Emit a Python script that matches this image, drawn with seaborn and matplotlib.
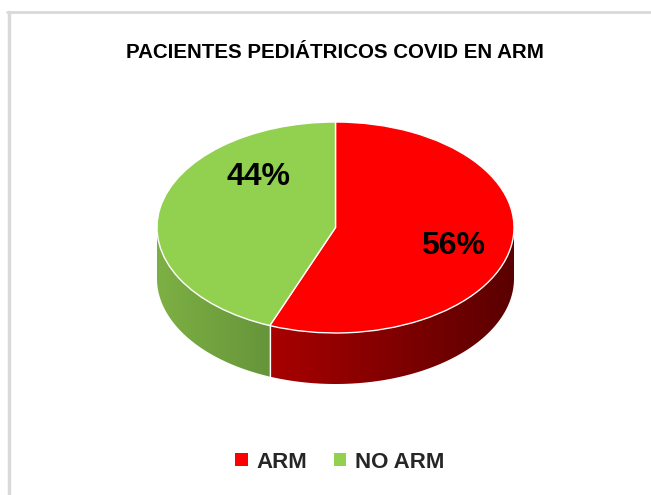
import numpy as np
import matplotlib
matplotlib.use("Agg")
import matplotlib.pyplot as plt
from matplotlib.patches import Polygon, Patch
from matplotlib.colors import LinearSegmentedColormap
from matplotlib.lines import Line2D
import seaborn as sns

# ---- data ----
categories = ["ARM", "NO ARM"]
values = [56, 44]
pct_labels = ["56%", "44%"]
title = "PACIENTES PEDIÁTRICOS COVID EN ARM"

# ---- style ----
sns.set_style("white")
plt.rcParams["font.family"] = ["Liberation Sans", "DejaVu Sans"]

top_colors = ["#FF0000", "#92D050"]
side_grad = [("#A80000", "#5A0000"), ("#7DB044", "#66953A")]

W, H = 651, 495
fig = plt.figure(figsize=(W / 100, H / 100), dpi=100)

# axes placement in pixels
px_left, px_right = 157, 514
px_top, px_bottom = 122, 384
ry_px = 105.5
depth = 51 / ry_px  # in y data units
ax = fig.add_axes([px_left / W, (H - px_bottom) / H,
                   (px_right - px_left) / W, (px_bottom - px_top) / H])

# ---- sides (3D wall) ----
total = float(sum(values))
start = 90.0
seams = []
for v, (c0, c1) in zip(values, side_grad):
    t2 = start
    t1 = start - 360.0 * v / total
    start = t1
    ts = np.linspace(t1, t2, 600)
    rad = np.deg2rad(ts)
    mask = np.sin(rad) <= 1e-9
    if mask.sum() < 2:
        continue
    r = rad[mask]
    xt, yt = np.cos(r), np.sin(r)
    poly_xy = np.concatenate([np.column_stack([xt, yt]),
                              np.column_stack([xt[::-1], yt[::-1] - depth])])
    poly = Polygon(poly_xy, closed=True, facecolor="none", edgecolor="none")
    ax.add_patch(poly)
    x0, x1 = xt.min(), xt.max()
    cmap = LinearSegmentedColormap.from_list("g", [c0, c1])
    grad = np.linspace(0, 1, 256).reshape(1, -1)
    im = ax.imshow(grad, cmap=cmap, aspect="auto",
                   extent=[x0, x1, -1 - depth, 0.05], zorder=1,
                   interpolation="bilinear")
    im.set_clip_path(poly)
    seams.append(t1)

# seam line on the side wall
for t in seams:
    rr = np.deg2rad(t)
    if np.sin(rr) < 0:
        ax.plot([np.cos(rr), np.cos(rr)], [np.sin(rr), np.sin(rr) - depth],
                color="white", lw=0.9, zorder=1.5)

# ---- top face ----
wedges, _ = ax.pie(values, colors=top_colors, startangle=90, counterclock=False,
                   radius=1, wedgeprops=dict(edgecolor="white", linewidth=1.0))
for w in wedges:
    w.set_zorder(2)

ax.set_aspect("auto")
ax.set_xlim(-1, 1)
ax.set_ylim(-1 - depth, 1)
ax.axis("off")

# ---- labels ----
label_pos = [(0.658, -0.18), (-0.43, 0.48)]
for txt, (x, y) in zip(pct_labels, label_pos):
    ax.text(x, y, txt, ha="center", va="center", fontsize=23,
            fontweight="bold", color="black", zorder=5)

# ---- title ----
fig.text(335 / W, 1 - 52 / H, title, ha="center", va="center",
         fontsize=14.8, fontweight="bold", color="black")

# ---- legend ----
handles = [Patch(facecolor=c, edgecolor="none") for c in top_colors]
fig.legend(handles, categories, loc="center", bbox_to_anchor=(340 / W, 1 - 462 / H),
           ncol=2, frameon=False, handlelength=0.55, handleheight=0.55,
           handletextpad=0.4, columnspacing=1.2,
           prop=dict(size=16, weight="bold"))

# ---- frame lines ----
fig.add_artist(Line2D([7 / W, 1], [1 - 12 / H, 1 - 12 / H], color="#D9D9D9", lw=2,
                      transform=fig.transFigure))
fig.add_artist(Line2D([9 / W, 9 / W], [1 - 12 / H, 0], color="#D9D9D9", lw=2.5,
                      transform=fig.transFigure))

fig.savefig("out.png", dpi=100, facecolor="white")
